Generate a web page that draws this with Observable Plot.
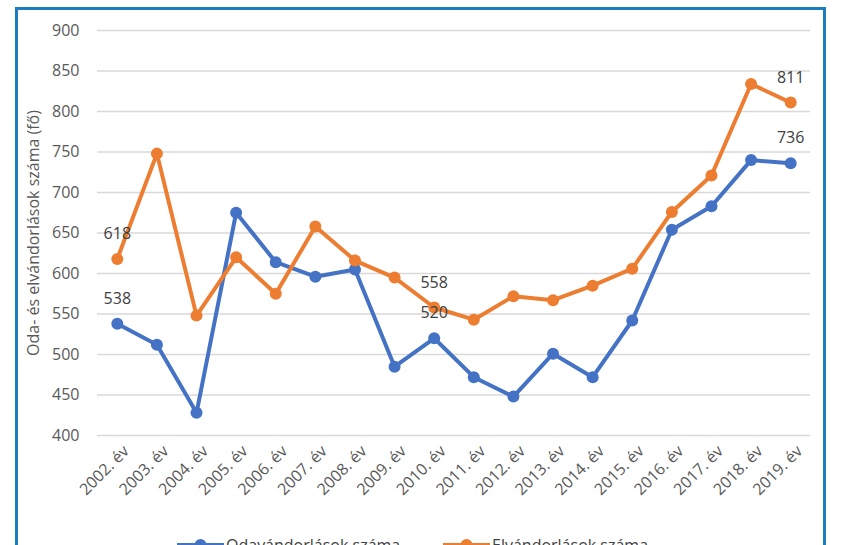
<!DOCTYPE html>
<html>
<head>
<meta charset="utf-8">
<script src="https://cdn.jsdelivr.net/npm/d3@7"></script>
<script src="https://cdn.jsdelivr.net/npm/@observablehq/plot@0.6"></script>
<style>
  body { margin: 0; background: #fff; font-family: "Open Sans", sans-serif; overflow: hidden; }
  #wrap { position: relative; width: 849px; height: 545px; }
  #chart { position: absolute; left: 0; top: 0; }
  #frame { position: absolute; left: 15px; top: 7px; width: 805px; height: 560px; border: 3px solid #1b7ec2; pointer-events: none; }
  #legend { position: absolute; top: 534px; left: 0; width: 849px; font-size: 16px; color: #404040; }
  .item { position: absolute; display: flex; align-items: center; white-space: nowrap; }
</style>
</head>
<body>
<div id="wrap">
  <div id="chart"></div>
  <div id="frame"></div>
  <div id="legend"></div>
</div>
<script>
const years = ["2002. év","2003. év","2004. év","2005. év","2006. év","2007. év","2008. év","2009. év","2010. év","2011. év","2012. év","2013. év","2014. év","2015. év","2016. év","2017. év","2018. év","2019. év"];
const odavandorlas = [538, 512, 428, 675, 614, 596, 605, 485, 520, 472, 448, 501, 472, 542, 654, 683, 740, 736];
const elvandorlas = [618, 748, 548, 620, 575, 658, 616, 595, 558, 543, 572, 567, 585, 606, 676, 721, 834, 811];
const seriesNames = ["Odavándorlások száma", "Elvándorlások száma"];
const seriesColors = ["#4472c4", "#ed7d31"];
const yTicks = [400, 450, 500, 550, 600, 650, 700, 750, 800, 850, 900];
const yTitle = "Oda- és elvándorlások száma (fő)";
const labelledIdx = [0, 8, 17];

const rows = [];
years.forEach((y, i) => {
  rows.push({year: y, value: odavandorlas[i], s: seriesNames[0], i});
  rows.push({year: y, value: elvandorlas[i], s: seriesNames[1], i});
});
const labels = rows.filter(d => labelledIdx.includes(d.i));

const chart = Plot.plot({
  width: 849,
  height: 500,
  marginLeft: 97,
  marginRight: 39,
  marginTop: 30,
  marginBottom: 65,
  style: { fontFamily: "Open Sans, sans-serif", fontSize: "16px", color: "#595959", background: "transparent" },
  x: { type: "point", domain: years, padding: 0.5, round: false },
  y: { domain: [400, 900] },
  color: { domain: seriesNames, range: seriesColors },
  marks: [
    Plot.ruleY(yTicks, { stroke: "#d9d9d9", strokeWidth: 1.5 }),
    Plot.axisY({ ticks: yTicks, tickSize: 0, tickPadding: 18, fontSize: 16, fill: "#595959", label: null }),
    Plot.text([yTitle], { frameAnchor: "left", textAnchor: "middle", rotate: -90, dx: -64, fontSize: 16, fill: "#595959" }),
    Plot.axisX({ tickSize: 0, tickRotate: -45, tickPadding: 13, dx: 9, label: null, fontSize: 16, fill: "#595959" }),
    Plot.line(rows, { x: "year", y: "value", z: "s", stroke: "s", strokeWidth: 4 }),
    Plot.dot(rows, { x: "year", y: "value", fill: "s", r: 6 }),
    Plot.text(labels, { x: "year", y: "value", text: d => String(d.value), dy: -25, fill: "#404040", fontSize: 16 })
  ]
});
document.getElementById("chart").appendChild(chart);

const legend = document.getElementById("legend");
const positions = [177, 443];
seriesNames.forEach((n, k) => {
  const it = document.createElement("div");
  it.className = "item";
  it.style.left = positions[k] + "px";
  it.innerHTML = `<svg width="47" height="14"><line x1="0" y1="7" x2="47" y2="7" stroke="${seriesColors[k]}" stroke-width="4"/><circle cx="23.5" cy="7" r="6" fill="${seriesColors[k]}"/></svg><span style="margin-left:2px">${n}</span>`;
  legend.appendChild(it);
});
</script>
</body>
</html>
